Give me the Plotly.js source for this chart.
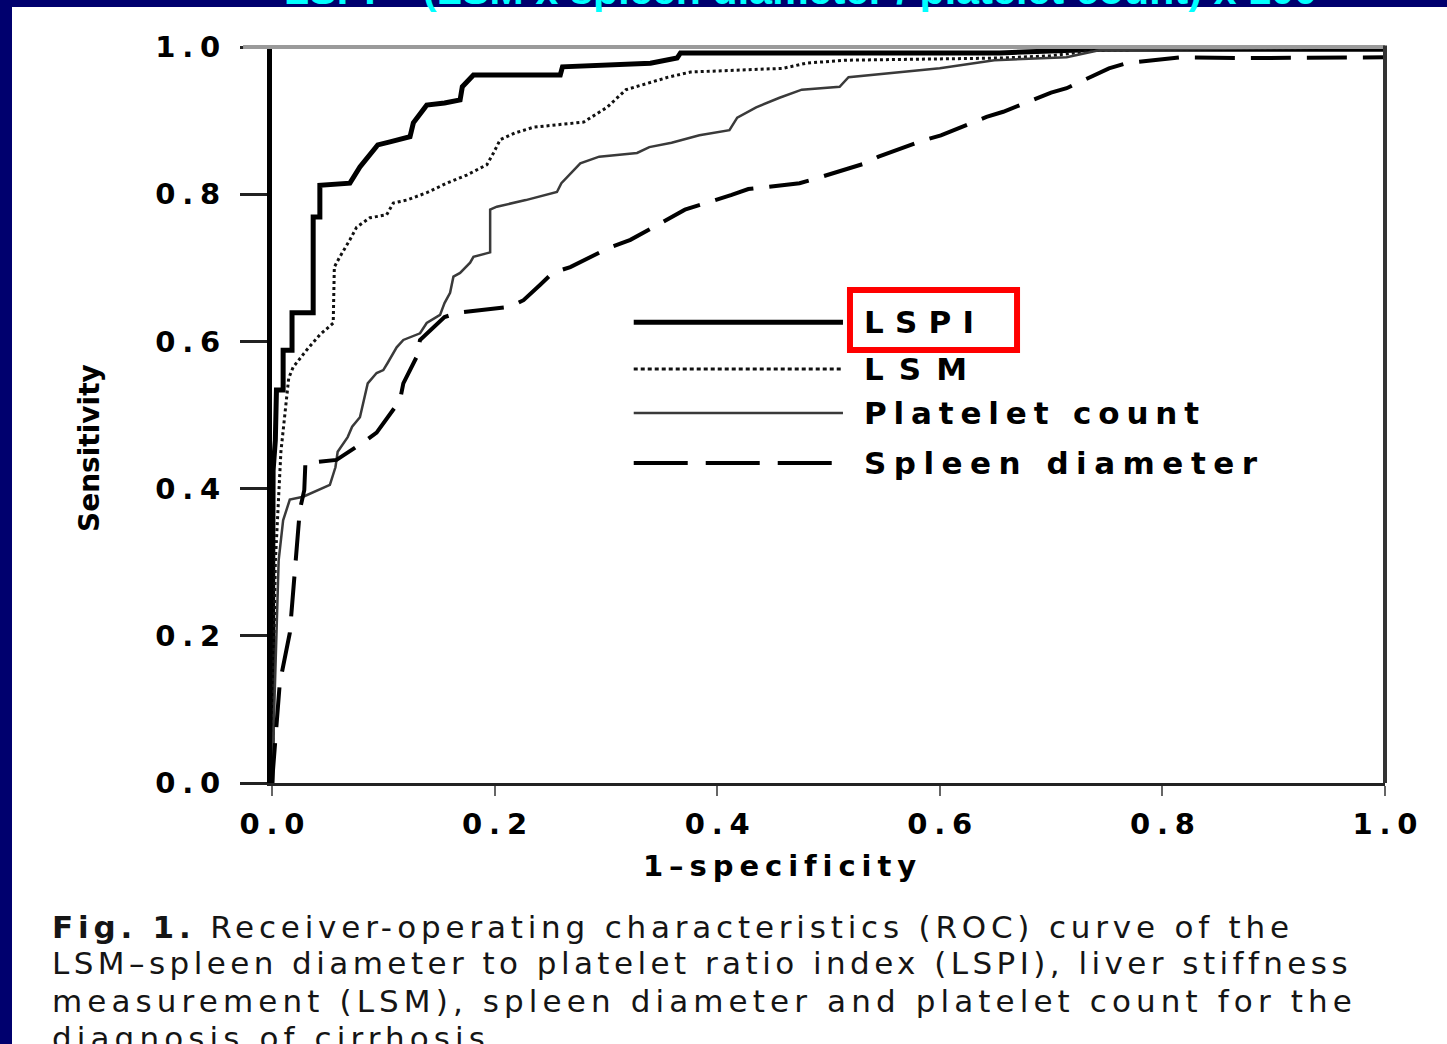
<!DOCTYPE html>
<html>
<head>
<meta charset="utf-8">
<script src="https://cdn.plot.ly/plotly-3.0.1.min.js"></script>
<style>
  html, body { margin: 0; padding: 0; background: #00006E; }
  #chart { width: 1447px; height: 1044px; }
</style>
</head>
<body>
<div id="chart"></div>
<script>
// ---- data ----
const seriesNames = ["LSPI", "LSM", "Platelet count", "Spleen diameter"];

const lspiX = [0, 0.001, 0.003, 0.004, 0.010, 0.010, 0.018, 0.018, 0.030, 0.037, 0.037, 0.043, 0.043, 0.070, 0.079, 0.086, 0.095, 0.106, 0.124, 0.127, 0.139, 0.155, 0.169, 0.171, 0.181, 0.259, 0.261, 0.340, 0.364, 0.367, 0.654, 0.744, 1.0];
const lspiY = [0, 0.425, 0.466, 0.534, 0.534, 0.588, 0.588, 0.639, 0.639, 0.639, 0.769, 0.769, 0.812, 0.815, 0.837, 0.851, 0.867, 0.871, 0.878, 0.897, 0.921, 0.924, 0.928, 0.946, 0.962, 0.962, 0.973, 0.978, 0.985, 0.992, 0.992, 0.997, 0.997];

const lsmX = [0, 0.003, 0.008, 0.015, 0.019, 0.031, 0.043, 0.055, 0.056, 0.061, 0.070, 0.076, 0.088, 0.103, 0.109, 0.121, 0.139, 0.157, 0.175, 0.193, 0.199, 0.205, 0.218, 0.235, 0.280, 0.301, 0.318, 0.356, 0.376, 0.459, 0.480, 0.514, 0.654, 0.699, 0.744, 1.0];
const lsmY = [0, 0.30, 0.45, 0.55, 0.565, 0.588, 0.609, 0.625, 0.701, 0.715, 0.738, 0.755, 0.768, 0.772, 0.788, 0.792, 0.802, 0.815, 0.826, 0.840, 0.856, 0.874, 0.883, 0.891, 0.898, 0.918, 0.942, 0.959, 0.966, 0.971, 0.978, 0.982, 0.985, 0.988, 0.996, 1.0];

const plateletX = [0, 0.002, 0.004, 0.006, 0.010, 0.016, 0.028, 0.052, 0.057, 0.059, 0.068, 0.072, 0.079, 0.082, 0.086, 0.094, 0.100, 0.104, 0.112, 0.118, 0.133, 0.139, 0.151, 0.155, 0.160, 0.163, 0.169, 0.178, 0.181, 0.196, 0.196, 0.202, 0.228, 0.256, 0.260, 0.277, 0.294, 0.328, 0.339, 0.359, 0.384, 0.411, 0.418, 0.435, 0.456, 0.476, 0.510, 0.518, 0.562, 0.600, 0.649, 0.714, 0.744, 1.0];
const plateletY = [0, 0.113, 0.221, 0.303, 0.357, 0.385, 0.389, 0.405, 0.429, 0.450, 0.470, 0.484, 0.497, 0.516, 0.543, 0.557, 0.561, 0.571, 0.592, 0.602, 0.611, 0.625, 0.636, 0.652, 0.666, 0.688, 0.693, 0.707, 0.715, 0.721, 0.779, 0.783, 0.792, 0.803, 0.815, 0.842, 0.851, 0.856, 0.864, 0.870, 0.880, 0.887, 0.904, 0.918, 0.931, 0.942, 0.946, 0.959, 0.965, 0.971, 0.982, 0.986, 0.996, 1.0];

const spleenX = [0, 0.004, 0.007, 0.016, 0.021, 0.025, 0.029, 0.030, 0.040, 0.058, 0.085, 0.094, 0.115, 0.118, 0.130, 0.133, 0.155, 0.167, 0.214, 0.226, 0.241, 0.252, 0.268, 0.304, 0.322, 0.359, 0.371, 0.413, 0.428, 0.474, 0.488, 0.531, 0.545, 0.587, 0.601, 0.642, 0.657, 0.700, 0.714, 0.752, 0.768, 0.816, 0.879, 1.0];
const spleenY = [0, 0.086, 0.136, 0.204, 0.303, 0.371, 0.398, 0.435, 0.436, 0.439, 0.466, 0.476, 0.520, 0.543, 0.579, 0.602, 0.633, 0.639, 0.647, 0.656, 0.677, 0.693, 0.701, 0.728, 0.738, 0.769, 0.779, 0.799, 0.807, 0.815, 0.821, 0.841, 0.851, 0.874, 0.880, 0.905, 0.912, 0.938, 0.944, 0.971, 0.978, 0.986, 0.985, 0.986];

const tickVals = [0, 0.2, 0.4, 0.6, 0.8, 1.0];
const tickText = ["0.0", "0.2", "0.4", "0.6", "0.8", "1.0"];

const titleText = "LSPI = (LSM x spleen diameter / platelet count) x 100";
const xTitle = "1\u2013specificity";
const yTitle = "Sensitivity";
const captionBold = "Fig. 1.";
const captionLines = [
  "Receiver-operating characteristics (ROC) curve of the",
  "LSM\u2013spleen diameter to platelet ratio index (LSPI), liver stiffness",
  "measurement (LSM), spleen diameter and platelet count for the",
  "diagnosis of cirrhosis."
];

// ---- text width fitting (the reference is a horizontally stretched scan) ----
const cv = document.createElement("canvas").getContext("2d");
function textW(t, size, bold, fam) {
  cv.font = (bold ? "bold " : "") + size + "px \"" + fam + "\"";
  return cv.measureText(t).width;
}
function esc(t) { return t.replace(/&/g, "&amp;").replace(/</g, "&lt;").replace(/>/g, "&gt;"); }
function spacingFor(naturalW, nChars, target) {
  return Math.max(0, (target - naturalW) / Math.max(1, nChars - 1));
}
// wrap all but the last character in a letter-spaced span
function spaced(t, s) {
  return "<span style=\"letter-spacing:" + s.toFixed(2) + "px\">" + esc(t.slice(0, -1)) + "</span>" + esc(t.slice(-1));
}
function fitText(t, size, bold, fam, target) {
  const s = spacingFor(textW(t, size, bold, fam), t.length, target);
  return {html: spaced(t, s), s: s};
}

// ---- styles ----
const lineStyles = [
  {color: "#000000", width: 5, dash: "solid"},
  {color: "#111111", width: 3, dash: "3px,3px"},
  {color: "#3a3a3a", width: 2.5, dash: "solid"},
  {color: "#000000", width: 4, dash: "40px,16px"}
];
const seriesX = [lspiX, lsmX, plateletX, spleenX];
const seriesY = [lspiY, lsmY, plateletY, spleenY];

const traces = seriesNames.map((n, i) => ({
  type: "scatter", mode: "lines", name: n,
  x: seriesX[i], y: seriesY[i],
  line: lineStyles[i], cliponaxis: false, hoverinfo: "skip"
}));

const TF = "DejaVu Sans";
const tickSize = 29;
const tickLabels = tickText.map(t => fitText(t, tickSize, true, TF, 65).html);
const tickFont = {family: TF, size: tickSize, color: "#000", weight: "bold"};

// legend geometry (paper coords)
const legX0 = 0.325, legX1 = 0.513, legTextX = 0.530;
const legY = [0.626, 0.5625, 0.5027, 0.4348];
const legTargets = [110, 103, 335, 393];
const legSize = 31;
const legFont = {family: TF, size: legSize, color: "#000", weight: "bold"};

const shapes = [
  {type: "rect", layer: "below", xref: "paper", yref: "paper",
   x0: -0.2336, x1: 1.1, y0: -0.5, y1: 1.0543, fillcolor: "#ffffff", line: {width: 0}},
  {type: "line", layer: "above", xref: "paper", yref: "paper",
   x0: -0.026, x1: 1.0, y0: 1, y1: 1, line: {color: "#9a9a9a", width: 4}},
  {type: "line", layer: "above", xref: "paper", yref: "paper",
   x0: 1.0, x1: 1.0, y0: 0, y1: 1.002, line: {color: "#333333", width: 4}},
  {type: "rect", layer: "above", xref: "paper", yref: "paper",
   x0: 0.5193, x1: 0.6694, y0: 0.5883, y1: 0.6698, line: {color: "#ff0000", width: 6}, fillcolor: "rgba(0,0,0,0)"}
];
legY.forEach((yy, i) => {
  shapes.push({type: "line", layer: "above", xref: "paper", yref: "paper",
    x0: legX0, x1: legX1, y0: yy, y1: yy,
    line: {color: lineStyles[i].color, width: lineStyles[i].width, dash: i === 3 ? "54px,18px" : (i === 1 ? "4px,3px" : "solid")}});
});

const titleSize = 41;
const annotations = [
  {text: "<b>" + fitText(titleText, titleSize, true, "Liberation Sans", 1033).html + "</b>",
   xref: "paper", yref: "paper", x: 0.4744, y: 1.0774,
   xanchor: "center", yanchor: "middle", showarrow: false,
   font: {family: "Liberation Sans", size: titleSize, color: "#00FFFF"}},
  {text: fitText(xTitle, 29, true, TF, 272).html, xref: "paper", yref: "paper", x: 0.4564, y: -0.1128,
   xanchor: "center", yanchor: "middle", showarrow: false,
   font: {family: TF, size: 29, color: "#000", weight: "bold"}},
  {text: yTitle, xref: "paper", yref: "paper", x: -0.1635, y: 0.4552, textangle: -90,
   xanchor: "center", yanchor: "middle", showarrow: false,
   font: {family: TF, size: 28, color: "#000", weight: "bold"}}
];
seriesNames.forEach((n, i) => {
  annotations.push({text: fitText(n, legSize, true, TF, legTargets[i]).html, xref: "paper", yref: "paper",
    x: legTextX, y: legY[i], xanchor: "left", yanchor: "middle", showarrow: false, font: legFont});
});

// caption
const capSize = 31;
const capY = [-0.1957, -0.2446, -0.2962, -0.3465];
const capTargets = [1238, 1295, 1300];
// line 1 has a bold prefix
const boldW = textW(captionBold + " ", capSize, true, TF);
const l1 = captionLines[0];
const l1s = spacingFor(boldW + textW(l1, capSize, false, TF), captionBold.length + 1 + l1.length, capTargets[0]);
const capHtml = [
  "<span style=\"letter-spacing:" + l1s.toFixed(2) + "px\"><b>" + esc(captionBold) + "</b> " + esc(l1.slice(0, -1)) + "</span>" + esc(l1.slice(-1))
];
const s2 = fitText(captionLines[1], capSize, false, TF, capTargets[1]);
const s3 = fitText(captionLines[2], capSize, false, TF, capTargets[2]);
capHtml.push(s2.html, s3.html, spaced(captionLines[3], s3.s));
capHtml.forEach((t, i) => {
  annotations.push({text: t, xref: "paper", yref: "paper", x: -0.1995, y: capY[i],
    xanchor: "left", yanchor: "middle", showarrow: false,
    font: {family: TF, size: capSize, color: "#151515"}});
});

const layout = {
  width: 1447, height: 1044,
  margin: {l: 272, r: 62, t: 47, b: 261},
  paper_bgcolor: "#00006E", plot_bgcolor: "#ffffff",
  showlegend: false,
  xaxis: {range: [0, 1], tickvals: tickVals, ticktext: tickLabels, showgrid: false, zeroline: false,
    showline: true, linecolor: "#222", linewidth: 3, ticks: "outside", ticklen: 10, tickwidth: 2,
    tickcolor: "#666", tickfont: tickFont, ticklabelstandoff: 3, fixedrange: true},
  yaxis: {range: [0, 1], tickvals: tickVals, ticktext: tickLabels, showgrid: false, zeroline: false,
    showline: true, linecolor: "#000", linewidth: 5, ticks: "outside", ticklen: 27, tickwidth: 3,
    tickcolor: "#222", tickfont: tickFont, ticklabelstandoff: 14, fixedrange: true},
  shapes: shapes,
  annotations: annotations
};

Plotly.newPlot("chart", traces, layout, {displayModeBar: false, staticPlot: true});
</script>
</body>
</html>
